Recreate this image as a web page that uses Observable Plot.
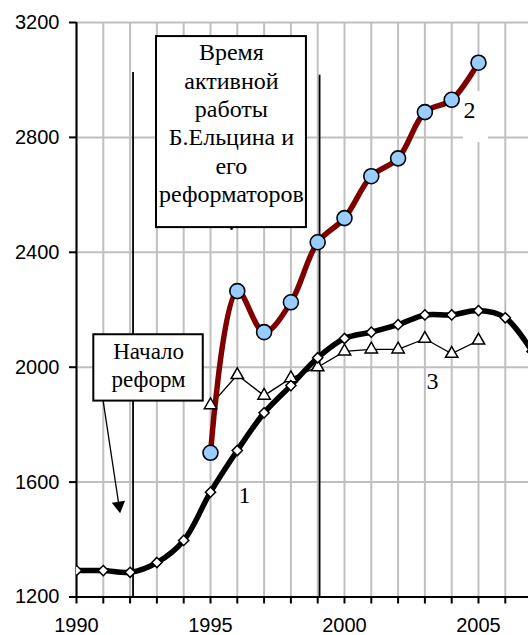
<!DOCTYPE html>
<html>
<head>
<meta charset="utf-8">
<script src="https://cdn.jsdelivr.net/npm/d3@7"></script>
<script src="https://cdn.jsdelivr.net/npm/@observablehq/plot@0.6"></script>
<style>
  html, body { margin: 0; padding: 0; background: white; overflow: hidden; }
  #chart svg { display: block; }
</style>
</head>
<body>
<div id="chart"></div>
<script>
// ---- Data ----
const years1 = [1990,1991,1992,1993,1994,1995,1996,1997,1998,1999,2000,2001,2002,2003,2004,2005,2006,2007];
const series1 = [1292,1292,1286,1320,1397,1565,1710,1841,1936,2033,2100,2122,2148,2182,2182,2197,2172,2055];

const years2 = [1995,1996,1997,1998,1999,2000,2001,2002,2003,2004,2005];
const series2 = [1702,2265,2122,2226,2435,2519,2665,2727,2888,2931,3060];

const years3 = [1995,1996,1997,1998,1999,2000,2001,2002,2003,2004,2005];
const series3 = [1868,1973,1901,1962,2000,2055,2062,2062,2099,2047,2093];

const xTicks = [1990,1991,1992,1993,1994,1995,1996,1997,1998,1999,2000,2001,2002,2003,2004,2005,2006];
const xLabels = [1990,1995,2000,2005];
const yTicks = [1200,1600,2000,2400,2800,3200];
const yGrid = [1600,2000,2400,2800,3200];

// event markers (vertical lines): start of reforms, end of Yeltsin era
const eventYears = [1992.11, 1999.07];
const eventTops = [3026, 3016];

// annotations
const box1Text = "Время\nактивной\nработы\nБ.Ельцина и\nего\nреформаторов\n.";
const box1 = {x1: 1992.985, x2: 1998.58, y1: 2486, y2: 3151, tx: 1995.78, ty: 3138};
const box2Text = "Начало\nреформ";
const box2 = {x1: 1990.646, x2: 1994.73, y1: 1882, y2: 2113, tx: 1992.69, ty: 2097};
const arrow = {x1: 1990.996, y1: 1882, x2: 1991.585, y2: 1518};
const seriesLabels = [
  {x: 1996.27, y: 1553, t: "1"},
  {x: 2004.66, y: 2894, t: "2"},
  {x: 2003.28, y: 1950, t: "3"}
];
const label2Box = {x1: 2004.44, x2: 2005.37, y1: 2782, y2: 2960};

const d1 = years1.map((x, i) => ({x, y: series1[i]}));
const d2 = years2.map((x, i) => ({x, y: series2[i]}));
const d3s = years3.map((x, i) => ({x, y: series3[i]}));
const events = eventYears.map((x, i) => ({x, top: eventTops[i]}));

const serif = "'Liberation Serif', 'Times New Roman', serif";

const chart = Plot.plot({
  width: 528,
  height: 635,
  marginLeft: 76,
  marginRight: 0,
  marginTop: 22,
  marginBottom: 38.5,
  x: {domain: [1990, 2006.866]},
  y: {domain: [1200, 3200]},
  style: {background: "white", fontFamily: "'Liberation Sans', Arial, sans-serif", color: "black"},
  marks: [
    Plot.gridX(xTicks, {stroke: "#c0c0c0", strokeOpacity: 1, strokeWidth: 2}),
    Plot.gridY(yGrid, {stroke: "#c0c0c0", strokeOpacity: 1, strokeWidth: 2}),
    Plot.rect([label2Box], {x1: "x1", x2: "x2", y1: "y1", y2: "y2", fill: "white"}),
    Plot.rect([box1], {x1: "x1", x2: "x2", y1: "y1", y2: "y2", fill: "white", stroke: "black", strokeWidth: 2}),
    Plot.text([box1], {x: "tx", y: "ty", text: () => box1Text, fontFamily: serif, fontSize: 24, lineHeight: 1.18, lineAnchor: "top", textAnchor: "middle", fill: "black"}),
    Plot.ruleX(events, {x: "x", y1: 1200, y2: "top", stroke: "black", strokeWidth: 1.8}),
    Plot.rect([box2], {x1: "x1", x2: "x2", y1: "y1", y2: "y2", fill: "white", stroke: "black", strokeWidth: 2}),
    Plot.text([box2], {x: "tx", y: "ty", text: () => box2Text, fontFamily: serif, fontSize: 23, lineHeight: 1.2, lineAnchor: "top", textAnchor: "middle", fill: "black"}),
    Plot.link([arrow], {x1: "x1", y1: "y1", x2: "x2", y2: "y2", stroke: "black", strokeWidth: 1.3}),
    Plot.dot([arrow], {x: "x2", y: "y2", symbol: "triangle2", r: 6.4, fill: "black", stroke: "none", rotate: 171.4}),
    Plot.ruleX([1990], {stroke: "black", strokeWidth: 2}),
    Plot.ruleY([1200], {stroke: "black", strokeWidth: 2}),
    Plot.axisY({ticks: yTicks, tickSize: 7, tickPadding: 10, strokeWidth: 2, fontSize: 20, tickFormat: d => String(d), label: null}),
    Plot.axisX({ticks: xTicks, tickSize: 7, tickPadding: 13.5, strokeWidth: 2, fontSize: 20, tickFormat: d => xLabels.includes(d) ? String(d) : "", label: null}),
    // series 3
    Plot.line(d3s, {x: "x", y: "y", stroke: "black", strokeWidth: 1.3}),
    // series 1
    Plot.line(d1, {x: "x", y: "y", curve: "catmull-rom", stroke: "black", strokeWidth: 5.5, clip: true}),
    // series 2
    Plot.line(d2, {x: "x", y: "y", curve: "catmull-rom", stroke: "#800000", strokeWidth: 5.5}),
    Plot.dot(d3s, {x: "x", y: "y", symbol: "triangle", r: 4.6, fill: "white", stroke: "black", strokeWidth: 1.5}),
    Plot.dot(d1, {x: "x", y: "y", symbol: "diamond2", r: 4.6, fill: "white", stroke: "black", strokeWidth: 1.5, clip: true}),
    Plot.dot(d2, {x: "x", y: "y", r: 7.5, fill: "#99ccff", stroke: "black", strokeWidth: 1.6}),
    Plot.text(seriesLabels, {x: "x", y: "y", text: "t", fontFamily: serif, fontSize: 24, fill: "black"})
  ]
});
document.getElementById("chart").append(chart);
</script>
</body>
</html>
